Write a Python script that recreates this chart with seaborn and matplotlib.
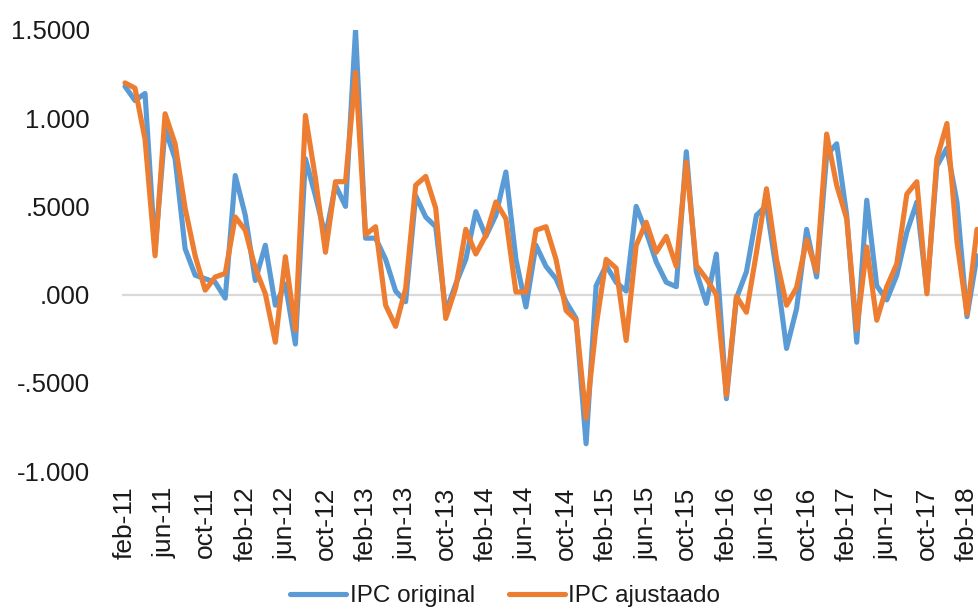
import matplotlib
matplotlib.use("Agg")
import matplotlib.pyplot as plt
import seaborn as sns
import pandas as pd
import numpy as np

# monthly series, feb-11 .. mar-18
ipc_original = [1.18, 1.10, 1.14, 0.25, 0.94, 0.77, 0.26, 0.11, 0.09, 0.07,
                -0.02, 0.675, 0.45, 0.08, 0.28, -0.06, 0.06, -0.28, 0.77, 0.56,
                0.33, 0.62, 0.50, 1.50, 0.32, 0.32, 0.20, 0.02, -0.04, 0.56,
                0.44, 0.385, -0.10, 0.06, 0.20, 0.47, 0.33, 0.45, 0.695, 0.20,
                -0.07, 0.28, 0.16, 0.09, -0.04, -0.135, -0.845, 0.05, 0.165, 0.07,
                0.02, 0.50, 0.355, 0.185, 0.07, 0.045, 0.81, 0.13, -0.05, 0.23,
                -0.59, -0.02, 0.13, 0.45, 0.505, 0.13, -0.305, -0.08, 0.37, 0.10,
                0.79, 0.855, 0.45, -0.27, 0.535, 0.05, -0.03, 0.11, 0.355, 0.525,
                0.02, 0.73, 0.83, 0.525, -0.125, 0.22]
ipc_ajustado = [1.20, 1.17, 0.88, 0.22, 1.025, 0.855, 0.49, 0.22, 0.025, 0.10,
                0.12, 0.44, 0.365, 0.15, 0.005, -0.27, 0.215, -0.20, 1.015, 0.66,
                0.24, 0.64, 0.64, 1.26, 0.34, 0.385, -0.06, -0.18, 0.035, 0.62,
                0.67, 0.49, -0.135, 0.04, 0.37, 0.23, 0.335, 0.525, 0.43, 0.015,
                0.015, 0.365, 0.385, 0.20, -0.09, -0.145, -0.70, -0.18, 0.20, 0.15,
                -0.26, 0.28, 0.41, 0.24, 0.33, 0.16, 0.75, 0.165, 0.09, 0.0,
                -0.57, -0.01, -0.10, 0.24, 0.60, 0.20, -0.06, 0.04, 0.31, 0.13,
                0.91, 0.62, 0.43, -0.20, 0.27, -0.145, 0.045, 0.175, 0.57, 0.64,
                0.005, 0.77, 0.97, 0.30, -0.11, 0.37]

tick_labels = ["feb-11", "jun-11", "oct-11", "feb-12", "jun-12", "oct-12",
               "feb-13", "jun-13", "oct-13", "feb-14", "jun-14", "oct-14",
               "feb-15", "jun-15", "oct-15", "feb-16", "jun-16", "oct-16",
               "feb-17", "jun-17", "oct-17", "feb-18"]
ytick_values = [-1.0, -0.5, 0.0, 0.5, 1.0, 1.5]
ytick_labels = ["-1.000", "-.5000", ".000", ".5000", "1.000", "1.5000"]

df = pd.DataFrame({"mes": np.arange(len(ipc_original)),
                   "IPC original": ipc_original,
                   "IPC ajustaado": ipc_ajustado})
long_df = df.melt(id_vars="mes", var_name="serie", value_name="valor")

sns.set_style("white")
plt.rcParams["font.family"] = ["Liberation Sans", "DejaVu Sans"]
text_color = "#1a1a1a"

fig = plt.figure(figsize=(9.79, 6.11), dpi=100)
ax = fig.add_axes([0.1246, 0.229, 0.8754, 0.722])

ax.axhline(0, color="#d9d9d9", lw=1.6, zorder=0)
sns.lineplot(data=long_df, x="mes", y="valor", hue="serie",
             palette={"IPC original": "#5b9bd5", "IPC ajustaado": "#ed7d31"},
             linewidth=3.7, ax=ax, legend=False)

ax.set_xlim(-0.3, 85.2)
ax.set_ylim(-1.0, 1.5)
ax.set_xticks(np.arange(0, 4 * len(tick_labels), 4))
ax.set_xticklabels(tick_labels, rotation=90, fontsize=19, color=text_color)
ax.set_yticks(ytick_values)
ax.set_yticklabels(ytick_labels, fontsize=18.5, color=text_color)
ax.tick_params(axis="x", length=0, pad=11)
ax.tick_params(axis="y", length=0, pad=23)
ax.set_xlabel("")
ax.set_ylabel("")
for s in ax.spines.values():
    s.set_visible(False)

handles = [plt.Line2D([], [], color="#5b9bd5", lw=3.7, solid_capstyle="round"),
           plt.Line2D([], [], color="#ed7d31", lw=3.7, solid_capstyle="round")]
leg = fig.legend(handles, ["IPC original", "IPC ajustaado"], loc="center",
                 bbox_to_anchor=(0.516, 0.024), ncol=2, frameon=False,
                 fontsize=17.5, handlelength=2.3, handletextpad=0.15,
                 columnspacing=1.4)
for t in leg.get_texts():
    t.set_color(text_color)

fig.savefig("out.png", dpi=100)
plt.close("all")
